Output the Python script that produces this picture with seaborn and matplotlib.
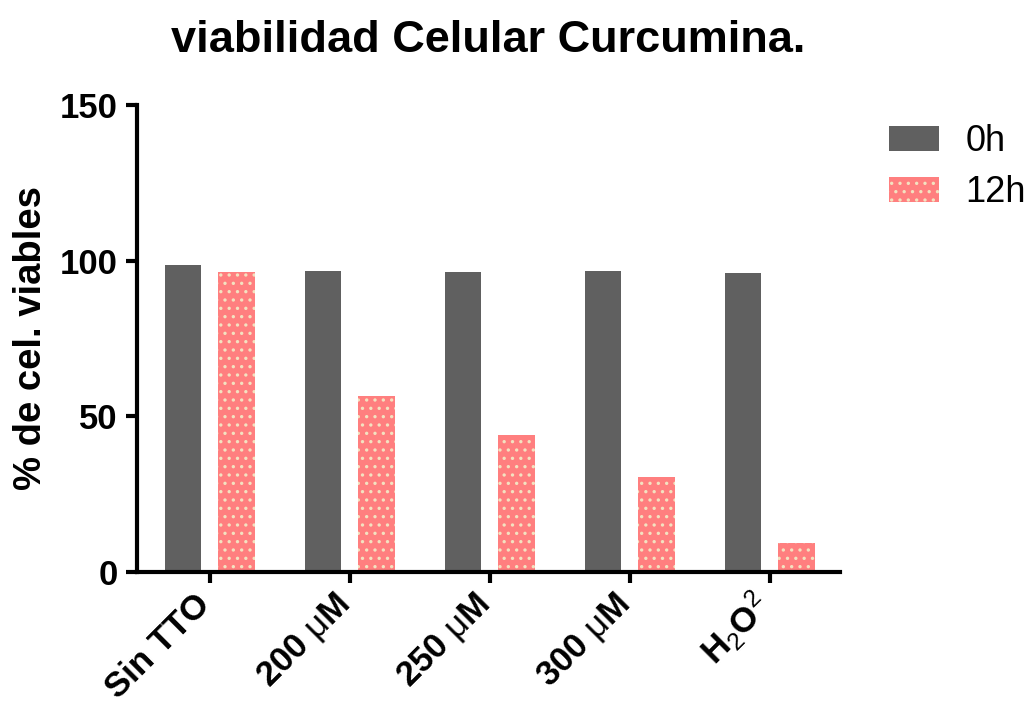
import matplotlib
matplotlib.use("Agg")
import matplotlib.pyplot as plt
import matplotlib.transforms as mtransforms
import seaborn as sns
import pandas as pd
from matplotlib.patches import Patch

categories = ["Sin TTO", "200 $\\mathrm{\\mu}$M", "250 $\\mathrm{\\mu}$M", "300 $\\mathrm{\\mu}$M",
              "H$_\\mathrm{2}$O$^\\mathrm{2}$"]
series_names = ["0h", "12h"]
values_0h = [98.6, 96.7, 96.4, 96.7, 96.0]
values_12h = [96.4, 56.5, 44.0, 30.5, 9.3]

df = pd.DataFrame({
    "cat": categories * 2,
    "time": [series_names[0]] * len(categories) + [series_names[1]] * len(categories),
    "val": values_0h + values_12h,
})

sns.set_style("white")
plt.rcParams['font.family'] = ['Liberation Sans', 'DejaVu Sans']
plt.rcParams['text.color'] = 'black'
plt.rcParams['axes.labelcolor'] = 'black'
plt.rcParams['mathtext.fontset'] = 'custom'
plt.rcParams['mathtext.rm'] = 'Liberation Sans'
plt.rcParams['mathtext.it'] = 'Liberation Sans:italic'
plt.rcParams['mathtext.bf'] = 'Liberation Sans:bold'
plt.rcParams['hatch.linewidth'] = 1.2

dark = "#606060"
pink = "#FF7F7F"
cream = "#F3E2C0"

fig = plt.figure(figsize=(10.32, 7.08), dpi=100)
ax = fig.add_axes([0.1328, 0.192, 0.681, 0.66])

sns.barplot(data=df, x="cat", y="val", hue="time", palette=[dark, pink],
            width=0.76, gap=0.32, ax=ax, legend=False, saturation=1)

n = len(categories)
for i, p in enumerate(ax.patches):
    if n <= i < 2 * n:
        p.set_hatch("..")
        p.set_edgecolor(cream)
    p.set_linewidth(0)

ax.set_xlim(-0.52, 4.5)
ax.set_ylim(0, 150)
ax.set_yticks([0, 50, 100, 150])
ax.set_xlabel("")
ax.set_ylabel("% de cel. viables", fontsize=27.5, fontweight="bold", labelpad=8,
              color="black")
ax.set_title("viabilidad Celular Curcumina.", fontsize=32.5, fontweight="bold", pad=38,
             color="black")

for s in ["top", "right"]:
    ax.spines[s].set_visible(False)
for s in ["left", "bottom"]:
    ax.spines[s].set_linewidth(3)
    ax.spines[s].set_color("black")

ax.tick_params(axis="both", direction="out", length=8, width=3, colors="black",
               labelsize=25, bottom=True, left=True)
ax.tick_params(axis="x", pad=12)
ax.tick_params(axis="y", pad=6)
for lab in ax.get_yticklabels():
    lab.set_fontweight("bold")
ax.set_xticks(range(n))
ax.set_xticklabels(categories, rotation=45, ha="right", va="center",
                   rotation_mode="anchor", fontweight="bold", fontsize=25)
offset = mtransforms.ScaledTranslation(-5 / 100, 0, fig.dpi_scale_trans)
for lab in ax.get_xticklabels():
    lab.set_transform(lab.get_transform() + offset)

handles = [Patch(facecolor=dark, edgecolor=dark, linewidth=0, label=series_names[0]),
           Patch(facecolor=pink, edgecolor=cream, hatch="..", linewidth=0, label=series_names[1])]
leg = fig.legend(handles=handles, loc="upper left", bbox_to_anchor=(889 / 1032, 0.825),
                 frameon=False, fontsize=26, handlelength=1.39, handleheight=0.7,
                 handletextpad=0.72, labelspacing=0.45, borderpad=0, borderaxespad=0)
for t in leg.get_texts():
    t.set_color("black")

fig.savefig("out.png", dpi=100)
